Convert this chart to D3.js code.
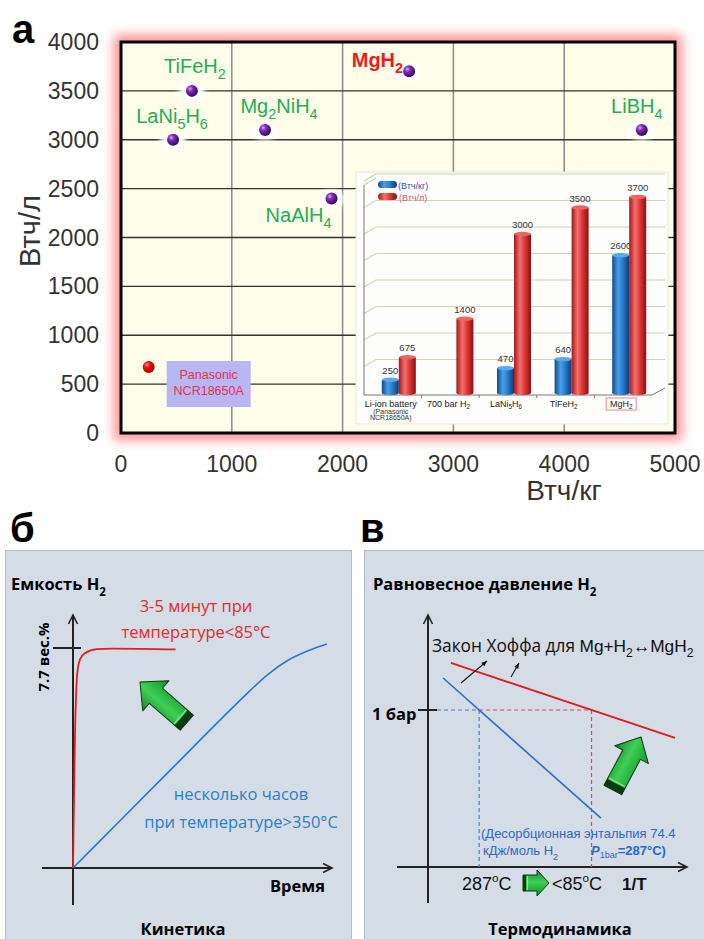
<!DOCTYPE html>
<html><head><meta charset="utf-8">
<script src="https://cdn.jsdelivr.net/npm/d3@7"></script>
<style>body{margin:0;background:#fff}svg{display:block}</style>
</head><body>
<script>
// ---------- DATA ----------
// Panel a: scatter (Втч/кг vs Втч/л)
const xTicks = [0, 1000, 2000, 3000, 4000, 5000];
const yTicks = [0, 500, 1000, 1500, 2000, 2500, 3000, 3500, 4000];
const matNames = ["TiFeH_2", "LaNi_5H_6", "Mg_2NiH_4", "NaAlH_4", "MgH_2", "LiBH_4"];
const matKg = [640, 470, 1300, 1900, 2600, 4700];
const matL = [3500, 3000, 3100, 2400, 3700, 3100];
const batteryName = ["Panasonic", "NCR18650A"];
const batteryKg = [250];
const batteryL = [675];
// Inset bar chart
const insetCats = ["Li-ion battery", "700 bar H_2", "LaNi_5H_6", "TiFeH_2", "MgH_2"];
const insetKg = [250, null, 470, 640, 2600];
const insetL = [675, 1400, 3000, 3500, 3700];
const insetGrid = [500, 1000, 1500, 2000, 2500, 3000, 3500, 4000];
// Panel б: kinetics (time, capacity wt%)
const redTime = [0, 0.04, 0.08, 0.13, 0.18, 0.28, 0.48, 0.95, 1.6, 4.1];
const redCap  = [0, 2.4, 4.7, 6.2, 6.9, 7.3, 7.52, 7.66, 7.68, 7.65];
const blueTime = [0, 2, 4, 6, 7, 7.8, 8.6, 9.4, 10.15];
const blueCap  = [0, 1.76, 3.52, 5.28, 6.14, 6.78, 7.27, 7.6, 7.84];
const capTick = 7.7;
// Panel в: van 't Hoff lines (1/T, ln P)
const redLineX = [0.88, 9.5],  redLineY = [8.1, 5.12];
const blueLineX = [0.58, 6.65], blueLineY = [7.5, 1.94];
const pOneBar = 6.23;

// ---------- SETUP ----------
const W = 704, H = 939;
const svg = d3.select("body").append("svg").attr("width", W).attr("height", H)
  .attr("font-family", "'Liberation Sans', Arial, sans-serif");
const defs = svg.append("defs");
const SANS2 = "'Open Sans', 'Noto Sans', sans-serif";

function rich(t, str, subScale = 0.7, shift = 0.3) {
  const fs = parseFloat(t.attr("font-size"));
  let i = 0, buf = "", parts = [];
  while (i < str.length) {
    const c = str[i];
    if (c === "_" || c === "^") {
      if (buf) { parts.push({ s: buf, k: 0 }); buf = ""; }
      let s;
      if (str[i + 1] === "{") { const j = str.indexOf("}", i); s = str.slice(i + 2, j); i = j + 1; }
      else { s = str[i + 1]; i += 2; }
      parts.push({ s, k: c === "_" ? 1 : -1.3 });
    } else { buf += c; i++; }
  }
  if (buf) parts.push({ s: buf, k: 0 });
  let cur = 0;
  parts.forEach(p => {
    const target = p.k * fs * shift;
    const ts = t.append("tspan").text(p.s).attr("dy", target - cur);
    if (p.k !== 0) ts.attr("font-size", fs * subScale);
    cur = target;
  });
  return t;
}

// gradients / filters
const f5 = defs.append("filter").attr("id", "blur5").attr("x", "-20%").attr("y", "-20%").attr("width", "140%").attr("height", "140%");
f5.append("feGaussianBlur").attr("stdDeviation", 6);
const f3 = defs.append("filter").attr("id", "blur3").attr("x", "-50%").attr("y", "-50%").attr("width", "200%").attr("height", "200%");
f3.append("feGaussianBlur").attr("stdDeviation", 2.5);
function radial(id, stops) {
  const g = defs.append("radialGradient").attr("id", id).attr("cx", "35%").attr("cy", "32%").attr("r", "70%");
  stops.forEach(s => g.append("stop").attr("offset", s[0]).attr("stop-color", s[1]));
}
radial("sphP", [[0, "#d3a8f0"], [0.35, "#7d2bb8"], [1, "#35075e"]]);
radial("sphR", [[0, "#ff9a9a"], [0.35, "#ee1111"], [1, "#a00000"]]);
function linear(id, stops, vertical) {
  const g = defs.append("linearGradient").attr("id", id).attr("x1", 0).attr("y1", 0)
    .attr("x2", vertical ? 0 : 1).attr("y2", vertical ? 1 : 0);
  stops.forEach(s => g.append("stop").attr("offset", s[0]).attr("stop-color", s[1]));
}
linear("cylB", [[0, "#0e4a8e"], [0.35, "#4a9fe6"], [0.6, "#2b7fd2"], [1, "#0c3c74"]]);
linear("cylR", [[0, "#a51717"], [0.35, "#f47070"], [0.6, "#e23b3b"], [1, "#8c0f0f"]]);
linear("gArrow", [[0, "#108a2b"], [0.45, "#3fd055"], [1, "#129030"]], true);

// ---------- PANEL a ----------
const ax = d3.scaleLinear().domain([0, 5000]).range([121, 675]);
const ay = d3.scaleLinear().domain([0, 4000]).range([433, 42]);
const pa = svg.append("g");
pa.append("rect").attr("x", ax(0) - 7).attr("y", ay(4000) - 7)
  .attr("width", ax(5000) - ax(0) + 14).attr("height", ay(0) - ay(4000) + 14)
  .attr("fill", "#ff7b7b").attr("opacity", 0.85).attr("filter", "url(#blur5)");
pa.append("rect").attr("x", ax(0)).attr("y", ay(4000))
  .attr("width", ax(5000) - ax(0)).attr("height", ay(0) - ay(4000)).attr("fill", "#fdfde9");
pa.selectAll(".vg").data(xTicks.slice(1, -1)).join("line")
  .attr("x1", d => ax(d)).attr("x2", d => ax(d)).attr("y1", ay(0)).attr("y2", ay(4000))
  .attr("stroke", "#8a8a8a").attr("stroke-width", 1.5);
pa.selectAll(".hg").data(yTicks.slice(1, -1)).join("line")
  .attr("x1", ax(0)).attr("x2", ax(5000)).attr("y1", d => ay(d)).attr("y2", d => ay(d))
  .attr("stroke", "#333").attr("stroke-width", 1.4);

// point halos
pa.selectAll(".halo").data(matKg.map((k, i) => [k, matL[i]])).join("ellipse")
  .attr("cx", d => ax(d[0])).attr("cy", d => ay(d[1]) + 1).attr("rx", 13).attr("ry", 9)
  .attr("fill", "#fff").attr("filter", "url(#blur3)");

// ----- inset -----
const inX0 = 356, inX1 = 668, inY0 = 172, inY1 = 424;
const ix = d3.scaleBand().domain(insetCats).range([364, 652]);
const iy = d3.scaleLinear().domain([0, 4000]).range([393, 181]);
const off = [12, -7];
const ins = pa.append("g");
ins.append("rect").attr("x", inX0).attr("y", inY0).attr("width", inX1 - inX0).attr("height", inY1 - inY0)
  .attr("fill", "#fdfdfb").attr("stroke", "#e4e4dc").attr("stroke-width", 0.8);
ins.selectAll(".ig").data(insetGrid).join("path")
  .attr("d", d => `M${ix.range()[0]},${iy(d)} L${ix.range()[0] + off[0]},${iy(d) + off[1]} L${inX1 - 3},${iy(d) + off[1]}`)
  .attr("fill", "none").attr("stroke", "#cbdab0").attr("stroke-width", 1.2);
ins.append("path")
  .attr("d", `M${ix.range()[0]},${iy(4000) + 4} L${ix.range()[0]},${iy(0) + 2} L${ix.range()[1]},${iy(0) + 2} L${ix.range()[1] + off[0] + 1},${iy(0) + 2 + off[1]}`)
  .attr("fill", "none").attr("stroke", "#777").attr("stroke-width", 1);
ins.append("path")
  .attr("d", `M${ix.range()[0]},${iy(4000) + 4} L${ix.range()[0] + off[0]},${iy(4000) - 3}`)
  .attr("fill", "none").attr("stroke", "#cbdab0").attr("stroke-width", 1.2);
ins.selectAll(".itk").data(insetCats.slice(1)).join("line")
  .attr("x1", d => ix(d)).attr("x2", d => ix(d)).attr("y1", iy(0) + 2).attr("y2", iy(0) + 5)
  .attr("stroke", "#777");

function cyl(g, x, w, v, grad, cap) {
  const top = iy(v), bot = iy(0);
  g.append("rect").attr("x", x).attr("y", top).attr("width", w).attr("height", bot - top).attr("fill", `url(#${grad})`);
  g.append("ellipse").attr("cx", x + w / 2).attr("cy", bot).attr("rx", w / 2).attr("ry", 2.2).attr("fill", `url(#${grad})`);
  g.append("ellipse").attr("cx", x + w / 2).attr("cy", top).attr("rx", w / 2).attr("ry", 2.2).attr("fill", cap);
}
const bw = 17;
insetCats.forEach((c, i) => {
  const cx = ix(c) + ix.bandwidth() / 2;
  if (insetKg[i] != null) {
    cyl(ins, cx - 11, bw, insetKg[i], "cylB", "#5aa8ea");
    ins.append("text").attr("x", cx - 2.5).attr("y", iy(insetKg[i]) - 6).attr("text-anchor", "middle")
      .attr("font-size", 9.5).attr("fill", "#333").text(insetKg[i]);
  }
  cyl(ins, cx + 6, bw, insetL[i], "cylR", "#f26262");
  ins.append("text").attr("x", cx + 14.5).attr("y", iy(insetL[i]) - 6).attr("text-anchor", "middle")
    .attr("font-size", 9.5).attr("fill", "#333").text(insetL[i]);
  const t = ins.append("text").attr("x", cx - 2).attr("y", 407).attr("text-anchor", "middle")
    .attr("font-size", 9).attr("fill", "#222");
  rich(t, c, 0.7, 0.2);
});
ins.append("text").attr("x", ix(insetCats[0]) + ix.bandwidth() / 2 - 2).attr("y", 413.5).attr("text-anchor", "middle")
  .attr("font-size", 7).attr("fill", "#333").text("(Panasonic");
ins.append("text").attr("x", ix(insetCats[0]) + ix.bandwidth() / 2 - 2).attr("y", 420).attr("text-anchor", "middle")
  .attr("font-size", 7).attr("fill", "#333").text("NCR18650A)");
{
  const c = insetCats[4], cx = ix(c) + ix.bandwidth() / 2 - 2;
  ins.append("rect").attr("x", cx - 15).attr("y", 398).attr("width", 30).attr("height", 12)
    .attr("fill", "none").attr("stroke", "#e87a8a").attr("stroke-width", 0.9);
}
// inset legend
ins.append("rect").attr("x", 378).attr("y", 181).attr("width", 19).attr("height", 7).attr("rx", 3.5).attr("fill", "url(#cylB)");
ins.append("text").attr("x", 398).attr("y", 188.5).attr("font-size", 9).attr("fill", "#3b4bb0").text("(Втч/кг)");
ins.append("rect").attr("x", 378).attr("y", 193).attr("width", 19).attr("height", 7).attr("rx", 3.5).attr("fill", "url(#cylR)");
ins.append("text").attr("x", 399).attr("y", 200.5).attr("font-size", 9).attr("fill", "#e0506e").text("(Втч/л)");

// points
pa.selectAll(".pt").data(matKg.map((k, i) => [k, matL[i]])).join("circle")
  .attr("cx", d => ax(d[0])).attr("cy", d => ay(d[1])).attr("r", 6).attr("fill", "url(#sphP)");
pa.selectAll(".bt").data(batteryKg.map((k, i) => [k, batteryL[i]])).join("circle")
  .attr("cx", d => ax(d[0])).attr("cy", d => ay(d[1])).attr("r", 6).attr("fill", "url(#sphR)");

// labels (offsets from point)
const labOff = [[3, -18, "middle"], [-1, -17, "middle"], [14, -17, "middle"], [-33, 24, "middle"], [-6, -4, "end"], [-5, -17, "middle"]];
matNames.forEach((n, i) => {
  const red = n.startsWith("MgH");
  const t = pa.append("text").attr("x", ax(matKg[i]) + labOff[i][0]).attr("y", ay(matL[i]) + labOff[i][1])
    .attr("text-anchor", labOff[i][2]).attr("font-size", 20)
    .attr("fill", red ? "#ee1c1c" : "#1fae55").attr("font-weight", red ? "bold" : "normal");
  rich(t, n, 0.72, 0.3);
});
// battery label box
{
  const bx = ax(batteryKg[0]) + 18, by = ay(batteryL[0]) - 6;
  pa.append("rect").attr("x", bx).attr("y", by).attr("width", 84).attr("height", 46).attr("fill", "#b9b6f4");
  batteryName.forEach((s, j) => pa.append("text").attr("x", bx + 42).attr("y", by + 18 + j * 16)
    .attr("text-anchor", "middle").attr("font-size", 12.5).attr("fill", "#e8304a").text(s));
}
// frame
pa.append("rect").attr("x", ax(0)).attr("y", ay(4000))
  .attr("width", ax(5000) - ax(0)).attr("height", ay(0) - ay(4000))
  .attr("fill", "none").attr("stroke", "#000").attr("stroke-width", 3);
// tick labels
pa.selectAll(".yl").data(yTicks).join("text").attr("x", 99).attr("y", d => ay(d) + 8)
  .attr("text-anchor", "end").attr("font-size", 23).attr("fill", "#333").text(d => d);
pa.selectAll(".xl").data(xTicks).join("text").attr("x", d => ax(d)).attr("y", 472)
  .attr("text-anchor", "middle").attr("font-size", 23).attr("fill", "#333").text(d => d);
pa.append("text").attr("x", 564).attr("y", 500).attr("text-anchor", "middle").attr("font-size", 28).attr("fill", "#333").text("Втч/кг");
pa.append("text").attr("transform", "translate(40,231) rotate(-90)").attr("text-anchor", "middle")
  .attr("font-size", 29).attr("fill", "#333").text("Втч/л");
svg.append("text").attr("x", 12).attr("y", 43).attr("font-size", 40).attr("font-weight", "bold").text("а");

// ---------- green arrow helper ----------
function greenArrow(g, tip, ang, p) {
  const { hl, hw, sw, sl } = p;
  const a = g.append("g").attr("transform", `translate(${tip[0]},${tip[1]}) rotate(${ang})`);
  const L = hl + sl;
  a.append("path").attr("d", `M0,0 L${-hl},${-hw} L${-hl},${-sw} L${-L},${-sw} L${-L},${sw} L${-hl},${sw} L${-hl},${hw} Z`)
    .attr("fill", "url(#gArrow)").attr("stroke", "#0a3a12").attr("stroke-width", 1).attr("stroke-linejoin", "round");
  a.append("rect").attr("x", -L).attr("y", -sw).attr("width", Math.max(3, sl * 0.18)).attr("height", 2 * sw).attr("fill", "#0a3a12");
  a.append("line").attr("x1", -L + Math.max(3, sl * 0.18) + 1.5).attr("x2", -L + Math.max(3, sl * 0.18) + 1.5)
    .attr("y1", -sw + 1).attr("y2", sw - 1).attr("stroke", "#8fe39a").attr("stroke-width", 1.2);
}
function chevron(g, x, y, dir) {
  const d = dir === "up" ? `M${x - 4.5},${y + 9} L${x},${y} L${x + 4.5},${y + 9}` : `M${x - 9},${y - 4.5} L${x},${y} L${x - 9},${y + 4.5}`;
  g.append("path").attr("d", d).attr("fill", "none").attr("stroke", "#222").attr("stroke-width", 1.6);
}

// ---------- PANEL б ----------
const pb = svg.append("g");
svg.append("text").attr("x", 10).attr("y", 542).attr("font-size", 40).attr("font-weight", "bold").text("б");
pb.append("rect").attr("x", 5.5).attr("y", 550.5).attr("width", 346).attr("height", 400)
  .attr("fill", "#d4dce6").attr("stroke", "#b4bcc8");
const kx = d3.scaleLinear().domain([0, 10]).range([73, 323]);
const ky = d3.scaleLinear().domain([0, 7.7]).range([868, 648]);
pb.append("line").attr("x1", kx(0)).attr("x2", kx(0)).attr("y1", 905).attr("y2", 615).attr("stroke", "#222").attr("stroke-width", 2);
chevron(pb, kx(0), 615, "up");
pb.append("line").attr("x1", 42).attr("x2", 332).attr("y1", ky(0)).attr("y2", ky(0)).attr("stroke", "#222").attr("stroke-width", 2);
chevron(pb, 332, ky(0), "right");
pb.append("line").attr("x1", 53).attr("x2", 81).attr("y1", ky(capTick)).attr("y2", ky(capTick)).attr("stroke", "#222").attr("stroke-width", 2);
const kline = d3.line().x(d => kx(d[0])).y(d => ky(d[1])).curve(d3.curveMonotoneX);
pb.append("path").attr("d", kline(blueTime.map((t, i) => [t, blueCap[i]]))).attr("fill", "none").attr("stroke", "#2a78c8").attr("stroke-width", 1.6);
pb.append("path").attr("d", kline(redTime.map((t, i) => [t, redCap[i]]))).attr("fill", "none").attr("stroke", "#e41e1e").attr("stroke-width", 1.8);
greenArrow(pb, [140, 682], -139, { hl: 21, hw: 20, sw: 10, sl: 41 });
pb.append("text").attr("font-family", SANS2).attr("font-size", 16.5).attr("font-weight", "bold").attr("x", 11).attr("y", 590)
  .call(t => rich(t, "Емкость H_2", 0.7, 0.35));
pb.append("text").attr("font-family", SANS2).attr("font-size", 15).attr("font-weight", "bold")
  .attr("transform", "translate(49,657) rotate(-90)").attr("text-anchor", "middle").text("7.7 вес.%");
[["3-5 минут при", 612], ["температуре<85°C", 638]].forEach(d => pb.append("text").attr("font-family", SANS2)
  .attr("font-size", 16.5).attr("fill", "#e42b2b").attr("x", 196).attr("y", d[1]).attr("text-anchor", "middle").text(d[0]));
[["несколько часов", 800], ["при температуре>350°C", 828]].forEach(d => pb.append("text").attr("font-family", SANS2)
  .attr("font-size", 16.5).attr("fill", "#2a7fc8").attr("x", 241).attr("y", d[1]).attr("text-anchor", "middle").text(d[0]));
pb.append("text").attr("font-family", SANS2).attr("font-size", 16.5).attr("font-weight", "bold").attr("x", 325).attr("y", 892).attr("text-anchor", "end").text("Время");
pb.append("text").attr("font-family", SANS2).attr("font-size", 16.5).attr("font-weight", "bold").attr("x", 183).attr("y", 935).attr("text-anchor", "middle").text("Кинетика");

// ---------- PANEL в ----------
const pc = svg.append("g");
svg.append("text").attr("x", 360).attr("y", 542).attr("font-size", 40).attr("font-weight", "bold").text("в");
pc.append("rect").attr("x", 364.5).attr("y", 550.5).attr("width", 360).attr("height", 400)
  .attr("fill", "#d4dce6").attr("stroke", "#b4bcc8");
const tx = d3.scaleLinear().domain([0, 10]).range([428, 688]);
const ty = d3.scaleLinear().domain([0, 10]).range([867, 615]);
pc.append("line").attr("x1", tx(0)).attr("x2", tx(0)).attr("y1", 903).attr("y2", 615).attr("stroke", "#222").attr("stroke-width", 2);
chevron(pc, tx(0), 615, "up");
pc.append("line").attr("x1", 397).attr("x2", 687).attr("y1", ty(0)).attr("y2", ty(0)).attr("stroke", "#222").attr("stroke-width", 2);
chevron(pc, 687, ty(0), "right");
pc.append("line").attr("x1", 418).attr("x2", 437).attr("y1", ty(pOneBar)).attr("y2", ty(pOneBar)).attr("stroke", "#222").attr("stroke-width", 2);
function xAt(lx, ly, y) { return lx[0] + (y - ly[0]) * (lx[1] - lx[0]) / (ly[1] - ly[0]); }
const xb = xAt(blueLineX, blueLineY, pOneBar), xr = xAt(redLineX, redLineY, pOneBar);
const dash = "4,3";
pc.append("line").attr("x1", tx(0) + 9).attr("x2", tx(xb)).attr("y1", ty(pOneBar)).attr("y2", ty(pOneBar)).attr("stroke", "#3b82d0").attr("stroke-width", 1.2).attr("stroke-dasharray", dash);
pc.append("line").attr("x1", tx(xb)).attr("x2", tx(xr)).attr("y1", ty(pOneBar)).attr("y2", ty(pOneBar)).attr("stroke", "#e24848").attr("stroke-width", 1.2).attr("stroke-dasharray", dash);
pc.append("line").attr("x1", tx(xb)).attr("x2", tx(xb)).attr("y1", ty(pOneBar)).attr("y2", ty(0)).attr("stroke", "#3b82d0").attr("stroke-width", 1.2).attr("stroke-dasharray", dash);
pc.append("line").attr("x1", tx(xr)).attr("x2", tx(xr)).attr("y1", ty(pOneBar)).attr("y2", ty(0)).attr("stroke", "#e24848").attr("stroke-width", 1.2).attr("stroke-dasharray", dash);
const tline = d3.line().x(d => tx(d[0])).y(d => ty(d[1]));
pc.append("path").attr("d", tline(blueLineX.map((x, i) => [x, blueLineY[i]]))).attr("stroke", "#2b6fc6").attr("stroke-width", 1.6).attr("fill", "none");
pc.append("path").attr("d", tline(redLineX.map((x, i) => [x, redLineY[i]]))).attr("stroke", "#e21c1c").attr("stroke-width", 1.8).attr("fill", "none");
greenArrow(pc, [641, 737], -62, { hl: 20, hw: 19, sw: 10, sl: 40 });
// small black arrows
function blackArrow(g, x1, y1, x2, y2) {
  g.append("line").attr("x1", x1).attr("y1", y1).attr("x2", x2).attr("y2", y2).attr("stroke", "#111").attr("stroke-width", 1.1);
  const a = Math.atan2(y2 - y1, x2 - x1), s = 6;
  g.append("path").attr("d", `M${x2},${y2} L${x2 - s * Math.cos(a - 0.4)},${y2 - s * Math.sin(a - 0.4)} L${x2 - s * Math.cos(a + 0.4)},${y2 - s * Math.sin(a + 0.4)} Z`).attr("fill", "#111");
}
blackArrow(pc, 461, 683, 487, 661);
blackArrow(pc, 511, 677, 519, 663);
pc.append("text").attr("font-family", SANS2).attr("font-size", 16.5).attr("font-weight", "bold").attr("x", 373).attr("y", 590)
  .call(t => rich(t, "Равновесное давление H_2", 0.7, 0.35));
pc.append("text").attr("font-family", SANS2).attr("font-size", 16.5).attr("font-weight", "bold").attr("x", 372).attr("y", 720).text("1 бар");
{
  const t = pc.append("text").attr("font-size", 17.3).attr("x", 432).attr("y", 652).attr("fill", "#111");
  t.append("tspan").attr("font-family", SANS2).text("Закон Хоффа для ");
  rich(t, "Mg+H_2↔MgH_2", 0.7, 0.3);
}
pc.append("text").attr("font-size", 13).attr("fill", "#2f68c8").attr("x", 481).attr("y", 838).text("(Десорбционная энтальпия 74.4");
pc.append("text").attr("font-size", 13).attr("fill", "#2f68c8").attr("x", 483).attr("y", 855).call(t => rich(t, "кДж/моль H_2", 0.7, 0.35));
{
  const t = pc.append("text").attr("font-size", 13).attr("fill", "#2f68c8").attr("font-weight", "bold").attr("x", 591).attr("y", 855);
  t.append("tspan").attr("font-style", "italic").text("P");
  t.append("tspan").attr("font-size", 9).attr("font-weight", "normal").attr("dy", 3).text("1bar");
  t.append("tspan").attr("dy", -3).text("=287°C)");
}
pc.append("text").attr("font-size", 18).attr("fill", "#111").attr("x", 462).attr("y", 890).call(t => rich(t, "287^oC", 0.65, 0.35));
greenArrow(pc, [549, 883], 0, { hl: 12, hw: 13, sw: 8, sl: 14 });
pc.append("text").attr("font-size", 18).attr("fill", "#111").attr("x", 552).attr("y", 890).call(t => rich(t, "<85^oC", 0.65, 0.35));
pc.append("text").attr("font-size", 17).attr("font-weight", "bold").attr("fill", "#111").attr("x", 622).attr("y", 890).text("1/T");
pc.append("text").attr("font-family", SANS2).attr("font-size", 16.5).attr("font-weight", "bold").attr("x", 560).attr("y", 935).attr("text-anchor", "middle").text("Термодинамика");
</script>
</body></html>
